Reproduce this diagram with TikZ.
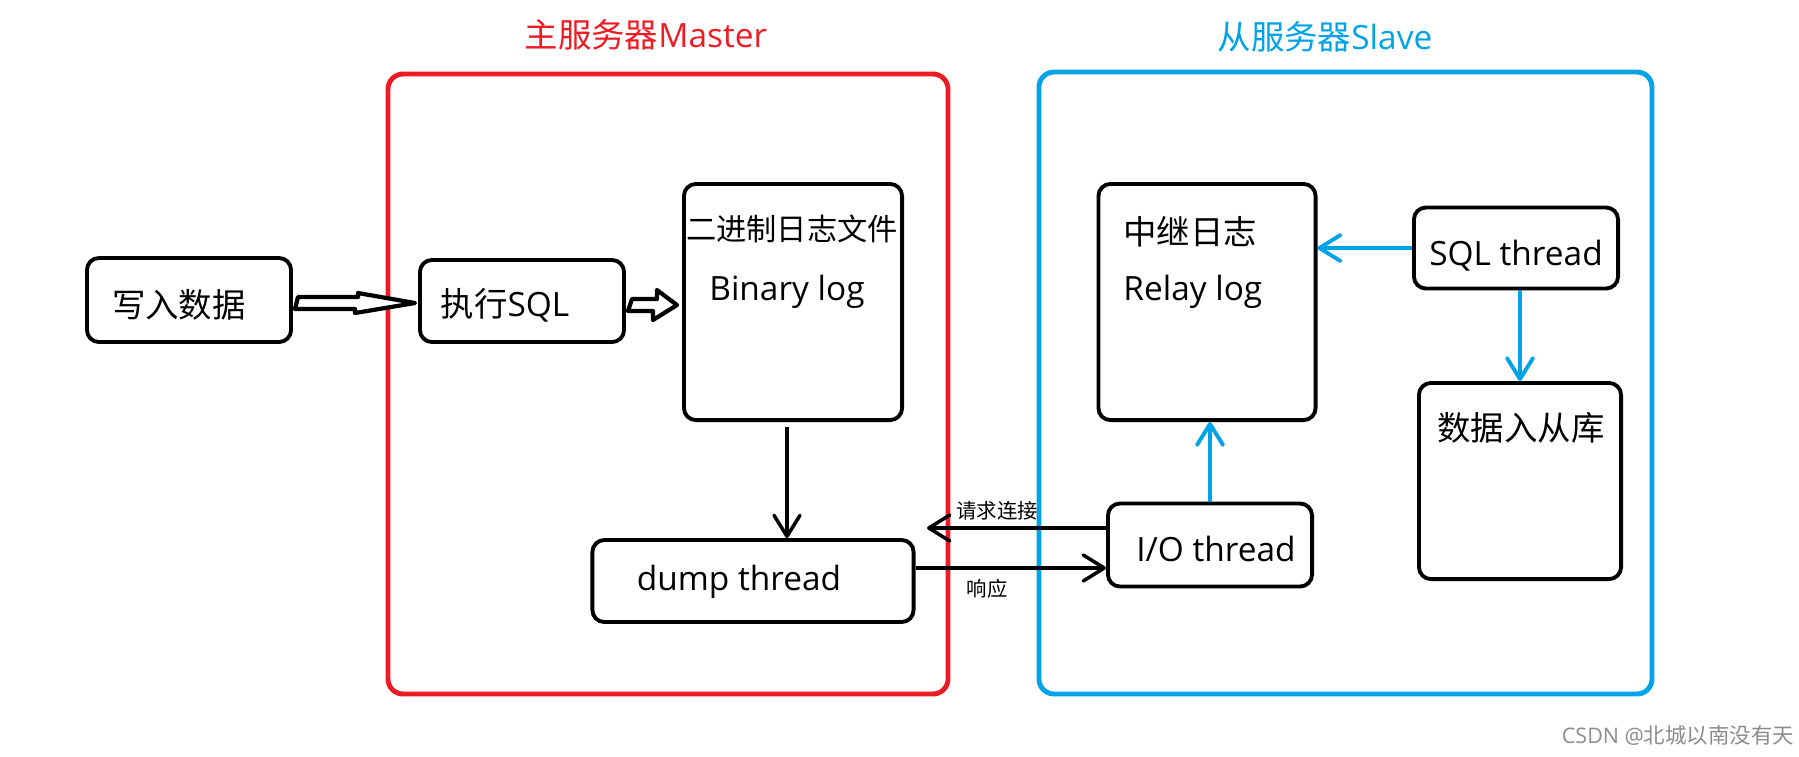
\documentclass[tikz,border=0pt]{standalone}
\usepackage{fontspec}
\setmainfont{Open Sans}
\newfontfamily\cjk{Noto Sans CJK SC}
\usetikzlibrary{arrows.meta}
\definecolor{masterred}{RGB}{237,28,36}
\definecolor{slaveblue}{RGB}{0,162,232}
\tikzstyle{box}=[draw, line width=1.1pt, rounded corners=0.12cm, inner sep=0pt]
\tikzstyle{serverframe}=[draw, line width=1.4pt, rounded corners=0.15cm]
\tikzstyle{line}=[draw, line width=1pt, -{Straight Barb[length=0.21cm,width=0.26cm,round]}]
\tikzstyle{blueline}=[line, color=slaveblue, line width=1.1pt]
\tikzstyle{hollow}=[draw, line width=1.2pt, fill=white, line join=round]
\tikzstyle{small}=[font=\fontsize{5.8}{7}\selectfont]

\begin{document}
\begin{tikzpicture}[x=0.01cm, y=-0.01cm, font=\fontsize{9.5}{11}\selectfont]
  \useasboundingbox (0,0) rectangle (1799,756);

  % servers
  \draw[serverframe, masterred] (388,74) rectangle (948,694);
  \draw[serverframe, slaveblue] (1039,72) rectangle (1652,694);
  \node[text=masterred] (mastertitle) at (646,35) {{\cjk 主服务器}Master};
  \node[text=slaveblue] (slavetitle) at (1325,37) {{\cjk 从服务器}Slave};

  \node[box, minimum width=2.04cm, minimum height=0.84cm] (write) at (189,300) {};
  \node (writetext) at (179,305) {\cjk 写入数据};
  \node[box, minimum width=2.04cm, minimum height=0.82cm] (exec) at (522,301) {};
  \node (exectext) at (505,305) {{\cjk 执行}SQL};
  \node[box, minimum width=2.18cm, minimum height=2.36cm] (binlog) at (793,302) {};
  \node[font=\fontsize{8.6}{10}\selectfont] (binlogcn) at (792,229) {\cjk 二进制日志文件};
  \node (binlogen) at (787,292) {Binary log};
  \node[box, minimum width=3.21cm, minimum height=0.82cm] (dump) at (753,581) {};
  \node (dumptext) at (739,582) {dump thread};

  \node[box, minimum width=2.17cm, minimum height=2.36cm] (relay) at (1207,302) {};
  \node[anchor=west] (relaycn) at (1111,232) {\cjk 中继日志};
  \node[anchor=west] (relayen) at (1111,292) {Relay log};
  \node[box, minimum width=2.04cm, minimum height=0.83cm] (io) at (1210,545) {};
  \node (iotext) at (1216,549) {I/O thread};
  \node[box, minimum width=2.04cm, minimum height=0.81cm] (sqlth) at (1516,248) {};
  \node (sqltext) at (1516,256) {SQL thread};
  \node[box, minimum width=2.02cm, minimum height=1.96cm] (slavedb) at (1520,481) {};
  \node (slavedbtext) at (1521,428) {\cjk 数据入从库};

  % hollow arrows
  \draw[hollow] ([shift={(5,-3)}]write.east) -- ++(60,0) -- ++(0,-4) -- ([shift={(-3,2)}]exec.west)
    -- ++(-60,10) -- ++(0,-4) -- ++(-60,0) -- cycle;
  \draw[hollow] ([shift={(6,-2)}]exec.east) -- ++(25,0) -- ++(0,-9) -- ([shift={(-5,3)}]binlog.west)
    -- ++(-24,15) -- ++(0,-9) -- ++(-25,0) -- cycle;

  \draw[line] ([xshift=-0.06cm,yshift=-0.05cm]binlog.south) -- ([xshift=-0.06cm]binlog.south |- dump.north);
  \coordinate (reqend) at (927,528);
  \draw[line] (io.west |- reqend) -- (reqend);
  \node[small] (reqlabel) at (997,511) {\cjk 请求连接};
  \draw[line] ([yshift=0.13cm]dump.east) -- ([yshift=0.13cm]dump.east -| io.west);
  \node[small] (resplabel) at (987,589) {\cjk 响应};

  \draw[blueline] (io.north) -- (io.north |- relay.south);
  \draw[blueline] (sqlth.west) -- (sqlth.west -| relay.east);
  \draw[blueline] (sqlth.south -| slavedb.north) -- (slavedb.north);

  \node[text=black!45, font=\fontsize{6.1}{7}\selectfont] (mark) at (1678,735) {CSDN @{\cjk 北城以南没有天}};
\end{tikzpicture}
\end{document}
